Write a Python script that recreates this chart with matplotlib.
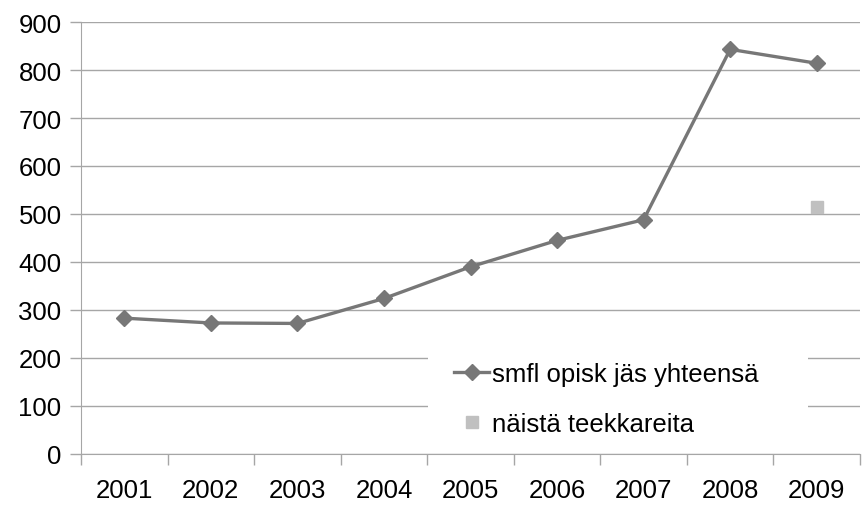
import matplotlib.pyplot as plt
import matplotlib.patches as mpatches
import numpy as np

plt.rcParams['font.family'] = ['Liberation Sans', 'DejaVu Sans']

#* data
vuodet = ['2001', '2002', '2003', '2004', '2005', '2006', '2007', '2008', '2009']
yhteensa = [283, 273, 272, 324, 390, 445, 488, 843, 814]
teekkarit = [None, None, None, None, None, None, None, None, 514]

x = np.arange(len(vuodet))
tk = np.array([np.nan if v is None else v for v in teekkarit], dtype=float)

#* figure
fig = plt.figure(figsize=(8.63, 5.10), dpi=100)
ax = fig.add_axes([81/863, 55/510, 779/863, 432/510])

grid_c = '#a6a6a6'
ax.set_ylim(0, 900)
ax.set_xlim(-0.5, len(vuodet) - 0.5)
ax.set_yticks(np.arange(0, 901, 100))
ax.yaxis.grid(True, color=grid_c, linewidth=1.0)
ax.set_axisbelow(True)

# category ticks between categories, labels at centers
ax.set_xticks(np.arange(-0.5, len(vuodet)), labels=[''] * (len(vuodet) + 1))
ax.set_xticks(x, labels=vuodet, minor=True)
ax.tick_params(axis='x', which='minor', length=0, pad=17, labelsize=18.5)
ax.tick_params(axis='x', which='major', length=8, color=grid_c, width=1.0)
ax.tick_params(axis='y', length=8, color=grid_c, width=1.0, labelsize=18.5, pad=6)

for s in ['top', 'right']:
    ax.spines[s].set_visible(False)
ax.spines['left'].set_color(grid_c)
ax.spines['bottom'].set_color(grid_c)

ax.plot(x, yhteensa, color='#777777', linewidth=2.4, marker='D', markersize=8,
        label='smfl opisk jäs yhteensä')
ax.plot(x, tk, linestyle='none', color='#c0c0c0', marker='s', markersize=9,
        label='näistä teekkareita')

# white legend background hiding the gridlines
ax.add_patch(mpatches.Rectangle((0.445, 0.02), 0.488, 0.28, transform=ax.transAxes,
                                facecolor='white', edgecolor='none', zorder=0.8))

leg = ax.legend(loc='center', bbox_to_anchor=(0.674, 0.128), fontsize=18.5,
                frameon=False, handlelength=1.4, handletextpad=0.1,
                labelspacing=1.0, borderpad=1.2)

plt.savefig('out.png', dpi=100)
